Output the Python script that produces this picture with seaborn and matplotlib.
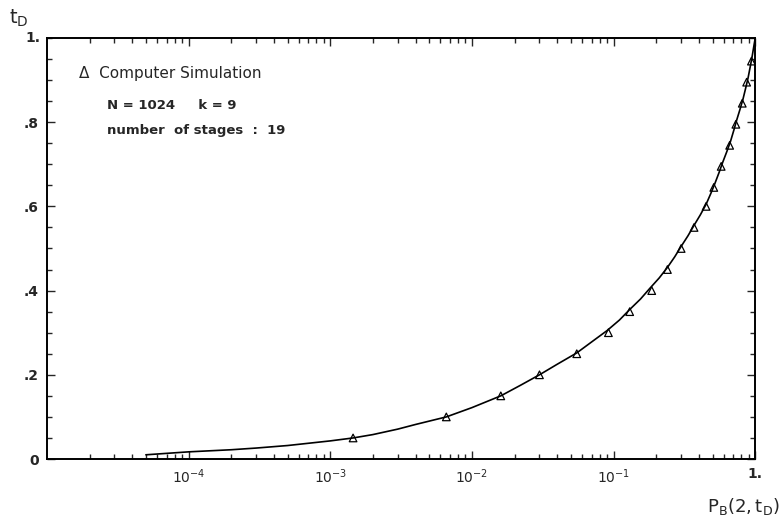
import numpy as np
import pandas as pd
import matplotlib
matplotlib.use("Agg")
import matplotlib.pyplot as plt
import seaborn as sns
from matplotlib.ticker import LogLocator, FixedLocator, MultipleLocator

# theory curve
curve_p = [5e-5, 1e-4, 2e-4, 3e-4, 5e-4, 1e-3, 1.45e-3, 2e-3, 3e-3, 4e-3, 6.6e-3, 0.01,
           0.016, 0.022, 0.03, 0.04, 0.055, 0.07, 0.09, 0.11, 0.13, 0.155, 0.18, 0.21,
           0.24, 0.27, 0.30, 0.335, 0.37, 0.41, 0.45, 0.485, 0.52, 0.555, 0.59, 0.63,
           0.67, 0.705, 0.74, 0.78, 0.82, 0.855, 0.89, 0.92, 0.95, 0.975, 1.0]
curve_t = [0.010, 0.017, 0.022, 0.026, 0.032, 0.043, 0.050, 0.058, 0.071, 0.082, 0.100,
           0.122, 0.150, 0.175, 0.200, 0.225, 0.252, 0.278, 0.305, 0.330, 0.355, 0.380,
           0.405, 0.430, 0.455, 0.480, 0.505, 0.530, 0.555, 0.580, 0.605, 0.630, 0.655,
           0.680, 0.705, 0.730, 0.755, 0.780, 0.805, 0.830, 0.855, 0.880, 0.905, 0.930,
           0.955, 0.978, 1.0]

# computer simulation points
sim_p = [1.45e-3, 6.6e-3, 0.016, 0.030, 0.055, 0.092, 0.13, 0.186, 0.24, 0.30, 0.37,
         0.45, 0.51, 0.575, 0.66, 0.73, 0.81, 0.87, 0.94]
sim_t = [0.05, 0.10, 0.15, 0.20, 0.25, 0.30, 0.35, 0.40, 0.45, 0.50, 0.55,
         0.60, 0.645, 0.695, 0.745, 0.795, 0.845, 0.895, 0.945]

x_ticks = [1e-4, 1e-3, 1e-2, 1e-1, 1.0]
x_labels = ["$10^{-4}$", "$10^{-3}$", "$10^{-2}$", "$10^{-1}$", "1."]
y_ticks = [0, 0.2, 0.4, 0.6, 0.8]
y_labels = ["0", ".2", ".4", ".6", ".8"]

sns.set_style("ticks")
plt.rcParams["font.family"] = ["DejaVu Sans"]

fig = plt.figure(figsize=(7.81, 5.25), dpi=100)
ax = fig.add_axes([0.060, 0.1257, 0.907, 0.802])

curve = pd.DataFrame({"p": curve_p, "t": curve_t})
sim = pd.DataFrame({"p": sim_p, "t": sim_t})

sns.lineplot(data=curve, x="p", y="t", ax=ax, color="black", linewidth=1.2)
sns.scatterplot(data=sim, x="p", y="t", ax=ax, marker="^", s=30,
                facecolors="none", edgecolor="black", linewidth=0.9)

ax.set_xscale("log")
ax.set_xlim(1e-5, 1.0)
ax.set_ylim(0, 1.0)

ax.xaxis.set_major_locator(FixedLocator(x_ticks))
ax.set_xticklabels(x_labels, fontsize=10, fontweight="bold")
ax.xaxis.set_minor_locator(LogLocator(base=10, subs=np.arange(2, 10), numticks=20))
ax.xaxis.set_minor_formatter(plt.NullFormatter())

ax.yaxis.set_major_locator(FixedLocator(y_ticks))
ax.set_yticklabels(y_labels, fontsize=10, fontweight="bold")
ax.yaxis.set_minor_locator(MultipleLocator(0.05))

ax.tick_params(which="both", direction="in", top=True, right=True, width=1.0)
ax.tick_params(which="major", length=6, pad=6)
ax.tick_params(which="minor", length=3.5)
for s in ax.spines.values():
    s.set_linewidth(1.4)
    s.set_color("black")

ax.set_xlabel("")
ax.set_ylabel("")

# top "1." label and axis names
fig.text(0.052, 0.928, "1.", ha="right", va="center", fontsize=10, fontweight="bold")
fig.text(0.012, 0.965, r"$\mathrm{t_D}$", ha="left", va="center", fontsize=14)
fig.text(0.905, 0.036, r"$\mathrm{P_B(2,t_D)}$", ha="left", va="center", fontsize=13)

# legend / annotations
ax.text(0.045, 0.915, "Δ  Computer Simulation", transform=ax.transAxes,
        fontsize=11, va="center")
ax.text(0.085, 0.84, "N = 1024     k = 9", transform=ax.transAxes,
        fontsize=9.5, fontweight="bold", va="center")
ax.text(0.085, 0.78, "number  of stages  :  19", transform=ax.transAxes,
        fontsize=9.5, fontweight="bold", va="center")

fig.savefig("out.png", dpi=100)
